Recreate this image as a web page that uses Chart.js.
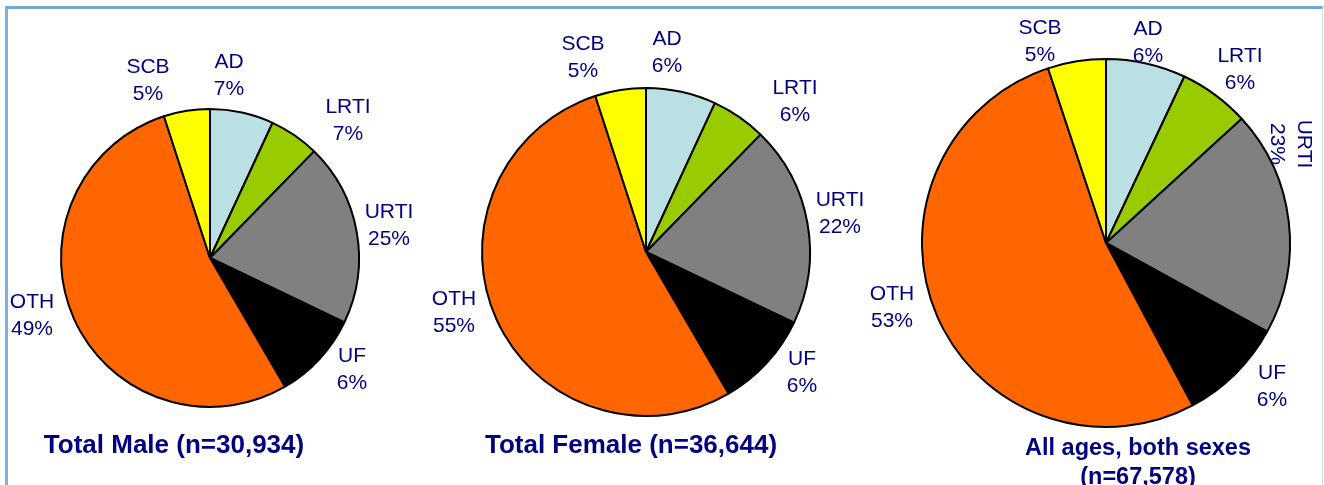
<!DOCTYPE html>
<html>
<head>
<meta charset="utf-8">
<script src="https://cdn.jsdelivr.net/npm/chart.js@4.4.1/dist/chart.umd.min.js"></script>
<style>
  body { margin: 0; background: #fff; width: 1324px; height: 485px; overflow: hidden; position: relative; }
  .frame { position: absolute; left: 5px; top: 6px; width: 1314px; height: 600px;
           border-top: 3px solid #6fa7d6; border-left: 3px solid #7fb1dc; border-right: 1px solid #d3e0ec; }
  canvas { position: absolute; left: 0; top: 0; }
</style>
</head>
<body>
<div class="frame"></div>
<canvas id="pieMale" width="1324" height="485"></canvas>
<canvas id="pieFemale" width="1324" height="485"></canvas>
<canvas id="pieAll" width="1324" height="485"></canvas>
<script>
// categories, clockwise from 12 o'clock
const categories = ['AD', 'LRTI', 'URTI', 'UF', 'OTH', 'SCB'];
const sliceColors = ['#bbe0e3', '#99cc00', '#808080', '#000000', '#ff6600', '#ffff00'];

// slice sizes as drawn
const maleShares = [6.9, 5.4, 19.8, 9.5, 53.4, 5.0];
const femaleShares = [6.9, 5.4, 19.8, 9.5, 53.4, 5.0];
const allShares = [7.0, 6.2, 19.8, 9.2, 52.7, 5.1];

// percentages printed on the labels
const malePct = [7, 7, 25, 6, 49, 5];
const femalePct = [6, 6, 22, 6, 55, 5];
const allPct = [6, 6, 23, 6, 53, 5];

const maleTitle = ['Total Male (n=30,934)'];
const femaleTitle = ['Total Female (n=36,644)'];
const allTitle = ['All ages, both sexes', '(n=67,578)'];

const TEXT_COLOR = '#000080';
const FONT = "'Liberation Sans', Arial, sans-serif";
const W = 1324, H = 485;

// label block centres relative to the pie centre
const maleLabelPos = [[19, -182], [138, -137], [179, -32], [142, 112], [-178, 58], [-62, -177]];
const femaleLabelPos = [[21, -199], [149, -150], [194, -38], [156, 121], [-192, 61], [-63, -194]];
const allLabelPos = [[42, -200], [134, -173], [184, -99], [166, 144], [-214, 65], [-66, -201]];

const labelPlugin = {
  id: 'pieLabels',
  afterDatasetsDraw(chart, args, opts) {
    const ctx = chart.ctx;
    const arc = chart.getDatasetMeta(0).data[0];
    const cx = arc.x, cy = arc.y;
    ctx.save();
    ctx.fillStyle = TEXT_COLOR;
    ctx.textAlign = 'center';
    ctx.textBaseline = 'middle';
    ctx.font = '21px ' + FONT;
    const lh = 27;
    categories.forEach((cat, i) => {
      const [dx, dy] = opts.pos[i];
      ctx.save();
      ctx.translate(cx + dx, cy + dy);
      if (opts.rotated && opts.rotated.includes(i)) ctx.rotate(Math.PI / 2);
      ctx.fillText(cat, 0, -lh / 2);
      ctx.fillText(opts.pct[i] + '%', 0, lh / 2);
      ctx.restore();
    });
    // title under the pie
    ctx.font = 'bold ' + opts.titleSize + 'px ' + FONT;
    ctx.textBaseline = 'alphabetic';
    opts.title.forEach((line, k) => {
      ctx.fillText(line, opts.titleX, opts.titleY + k * opts.titleGap);
    });
    ctx.restore();
  }
};

function makePie(id, shares, pct, center, r, labelPos, title, titleX, titleY, titleSize, rotated) {
  const [cx, cy] = center;
  return new Chart(document.getElementById(id), {
    type: 'pie',
    data: {
      labels: categories,
      datasets: [{
        data: shares,
        backgroundColor: sliceColors,
        borderColor: '#000',
        borderWidth: 2
      }]
    },
    options: {
      responsive: false,
      animation: false,
      radius: r - 1,
      events: [],
      layout: { padding: { left: cx - r, top: cy - r, right: W - cx - r, bottom: H - cy - r } },
      plugins: {
        legend: { display: false },
        tooltip: { enabled: false },
        pieLabels: { pos: labelPos, pct: pct, title: title, titleX: titleX, titleY: titleY,
                     titleSize: titleSize, titleGap: 29, rotated: rotated || [] }
      }
    },
    plugins: [labelPlugin]
  });
}

makePie('pieMale', maleShares, malePct, [210, 258], 150, maleLabelPos, maleTitle, 174, 453, 26);
makePie('pieFemale', femaleShares, femalePct, [646, 252], 165, femaleLabelPos, femaleTitle, 631, 453, 26);
makePie('pieAll', allShares, allPct, [1106, 243], 185, allLabelPos, allTitle, 1138, 455, 23.5, [2]);
</script>
</body>
</html>
